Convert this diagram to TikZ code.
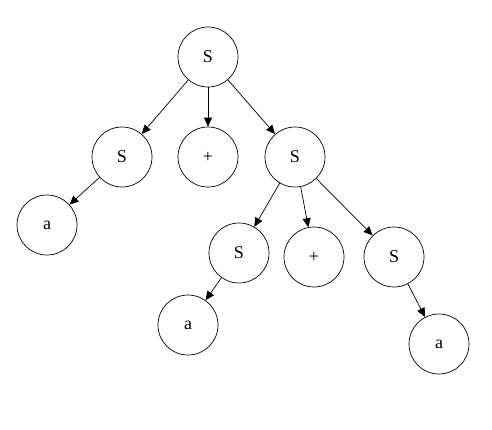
\documentclass[tikz,border=0pt]{standalone}
\usepackage{fontspec}
\setmainfont{Liberation Serif}
\usetikzlibrary{arrows.meta}

\begin{document}
\begin{tikzpicture}[x=1pt, y=-1pt]
  \tikzstyle{sym} = [circle, draw=black, line width=0.7pt, minimum size=60pt, inner sep=0pt, font=\fontsize{18}{21}\selectfont]
  \tikzstyle{arrow} = [line width=0.7pt, -{Triangle[length=9pt,width=8pt]}]

  \useasboundingbox (0,0) rectangle (492,429);

  \node (root) [sym] at (208,57) {S};
  \node (sL) [sym] at (122,157) {S};
  \node (plus1) [sym] at (208,157) {+};
  \node (sR) [sym] at (295,157) {S};
  \node (aL) [sym] at (47,225) {a};
  \node (sM) [sym] at (239,253) {S};
  \node (plus2) [sym] at (314,257) {+};
  \node (sRR) [sym] at (394,257) {S};
  \node (aM) [sym] at (188,325) {a};
  \node (aR) [sym] at (439,344) {a};

  \draw [arrow] (root) -- (sL);
  \draw [arrow] (root) -- (plus1);
  \draw [arrow] (root) -- (sR);
  \draw [arrow] (sL) -- (aL);
  \draw [arrow] (sR) -- (sM);
  \draw [arrow] (sR) -- (plus2);
  \draw [arrow] (sR) -- (sRR);
  \draw [arrow] (sM) -- (aM);
  \draw [arrow] (sRR) -- (aR);
\end{tikzpicture}
\end{document}
